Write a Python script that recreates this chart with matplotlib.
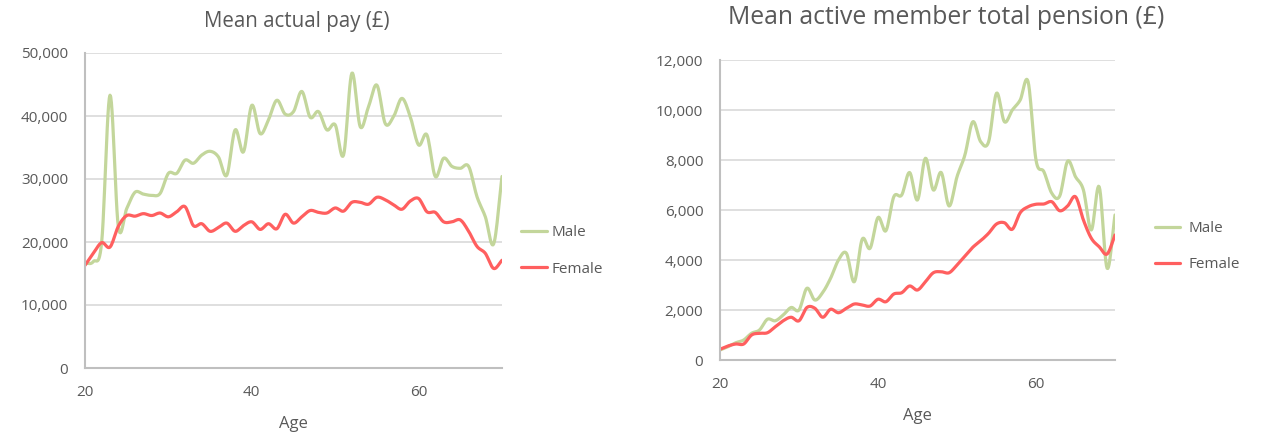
import matplotlib
matplotlib.use("Agg")
import matplotlib.pyplot as plt
import numpy as np

plt.rcParams['font.family'] = ['Open Sans', 'DejaVu Sans']

ages = list(range(20, 71))

pay_male = [16600, 16900, 20000, 43300, 22400, 25300, 27900, 27600, 27400, 27700,
            30900, 30900, 33000, 32500, 33800, 34400, 33500, 30600, 37800, 34300,
            41700, 37200, 39400, 42500, 40300, 40700, 43900, 39800, 40700, 37800,
            38600, 33800, 46800, 38300, 41500, 44900, 38800, 39900, 42800, 39900,
            35400, 37000, 30400, 33300, 32000, 31700, 32000, 27200, 24000, 19700,
            30400]
pay_female = [16300, 18200, 19900, 19200, 22500, 24200, 24100, 24500, 24200, 24600,
              24000, 24800, 25600, 22600, 22900, 21700, 22300, 23000, 21700, 22600,
              23200, 22000, 22900, 22100, 24400, 23000, 24000, 25000, 24700, 24600,
              25400, 24900, 26300, 26300, 26000, 27100, 26700, 25900, 25200, 26500,
              26900, 24800, 24700, 23200, 23200, 23500, 21700, 19300, 18200, 15800,
              17100]

pen_male = [400, 530, 690, 800, 1070, 1200, 1630, 1570, 1800, 2100,
            2000, 2870, 2400, 2700, 3270, 4000, 4270, 3130, 4830, 4470,
            5700, 5170, 6530, 6600, 7500, 6400, 8070, 6800, 7500, 6160,
            7330, 8200, 9530, 8730, 8730, 10670, 9530, 10000, 10400, 11130,
            8000, 7530, 6670, 6560, 7950, 7330, 6800, 5200, 6930, 3670,
            5800]
pen_female = [430, 560, 640, 640, 1000, 1070, 1090, 1330, 1570, 1710,
              1570, 2100, 2070, 1710, 2030, 1890, 2070, 2240, 2200, 2160,
              2430, 2330, 2640, 2690, 2960, 2800, 3130, 3490, 3530, 3490,
              3800, 4160, 4510, 4770, 5070, 5440, 5490, 5230, 5890, 6130,
              6230, 6240, 6330, 5970, 6160, 6530, 5600, 4870, 4530, 4240,
              5000]

GREEN = '#c3d69b'
RED = '#ff5f5f'
GREY_TXT = '#595959'
GRID = '#d9d9d9'


def smooth(x, y, n=12):
    # catmull-rom through the points, like excel's smoothed line
    x = np.asarray(x, float)
    y = np.asarray(y, float)
    px = np.concatenate([[2 * x[0] - x[1]], x, [2 * x[-1] - x[-2]]])
    py = np.concatenate([[2 * y[0] - y[1]], y, [2 * y[-1] - y[-2]]])
    t = np.linspace(0, 1, n, endpoint=False)
    xs, ys = [], []
    for i in range(1, len(px) - 2):
        for arr, out in ((px, xs), (py, ys)):
            p0, p1, p2, p3 = arr[i - 1], arr[i], arr[i + 1], arr[i + 2]
            out.extend(0.5 * ((2 * p1) + (-p0 + p2) * t +
                              (2 * p0 - 5 * p1 + 4 * p2 - p3) * t ** 2 +
                              (-p0 + 3 * p1 - 3 * p2 + p3) * t ** 3))
    xs.append(x[-1])
    ys.append(y[-1])
    return np.array(xs), np.array(ys)


def style_axes(ax, ymax, ystep):
    ax.set_xlim(20, 70)
    ax.set_ylim(0, ymax)
    ax.set_xticks([20, 40, 60])
    ax.set_yticks(np.arange(0, ymax + 1, ystep))
    ax.yaxis.set_major_formatter(matplotlib.ticker.FuncFormatter(lambda v, p: f"{int(v):,}"))
    ax.grid(axis='y', color=GRID, linewidth=1.2)
    ax.set_axisbelow(True)
    for s in ['top', 'right']:
        ax.spines[s].set_visible(False)
    for s in ['left', 'bottom']:
        ax.spines[s].set_color('#bfbfbf')
        ax.spines[s].set_linewidth(1.5)
    ax.tick_params(length=0, labelsize=11, colors=GREY_TXT, pad=12)
    ax.tick_params(axis='x', pad=12)
    ax.set_xlabel('Age', fontsize=12, color=GREY_TXT, labelpad=12)


fig = plt.figure(figsize=(12.61, 4.34), dpi=100)
ax1 = fig.add_axes([85 / 1261, 66 / 434, 417 / 1261, 315 / 434])
ax2 = fig.add_axes([720 / 1261, 74 / 434, 395 / 1261, 300 / 434])

for ax, male, female in ((ax1, pay_male, pay_female), (ax2, pen_male, pen_female)):
    mx, my = smooth(ages, male)
    fx, fy = smooth(ages, female)
    ax.plot(mx, my, color=GREEN, linewidth=2.3, label='Male', solid_capstyle='round')
    ax.plot(fx, fy, color=RED, linewidth=2.3, label='Female', solid_capstyle='round')

style_axes(ax1, 50000, 10000)
style_axes(ax2, 12000, 2000)

ax1.legend(loc='center left', bbox_to_anchor=(1.045, 0.372), frameon=False, fontsize=11,
           labelcolor=GREY_TXT, handlelength=1.7, handletextpad=0.3, labelspacing=1.4,
           borderaxespad=0, borderpad=0)
ax2.legend(loc='center left', bbox_to_anchor=(1.1, 0.378), frameon=False, fontsize=11,
           labelcolor=GREY_TXT, handlelength=1.7, handletextpad=0.5, labelspacing=1.4,
           borderaxespad=0, borderpad=0)

fig.text(297 / 1261, 1 - 22 / 434, 'Mean actual pay (£)', ha='center', va='center',
         fontsize=14.8, color=GREY_TXT)
fig.text(946 / 1261, 1 - 17 / 434, 'Mean active member total pension (£)', ha='center',
         va='center', fontsize=17.8, color=GREY_TXT)

fig.savefig('out.png', dpi=100)
